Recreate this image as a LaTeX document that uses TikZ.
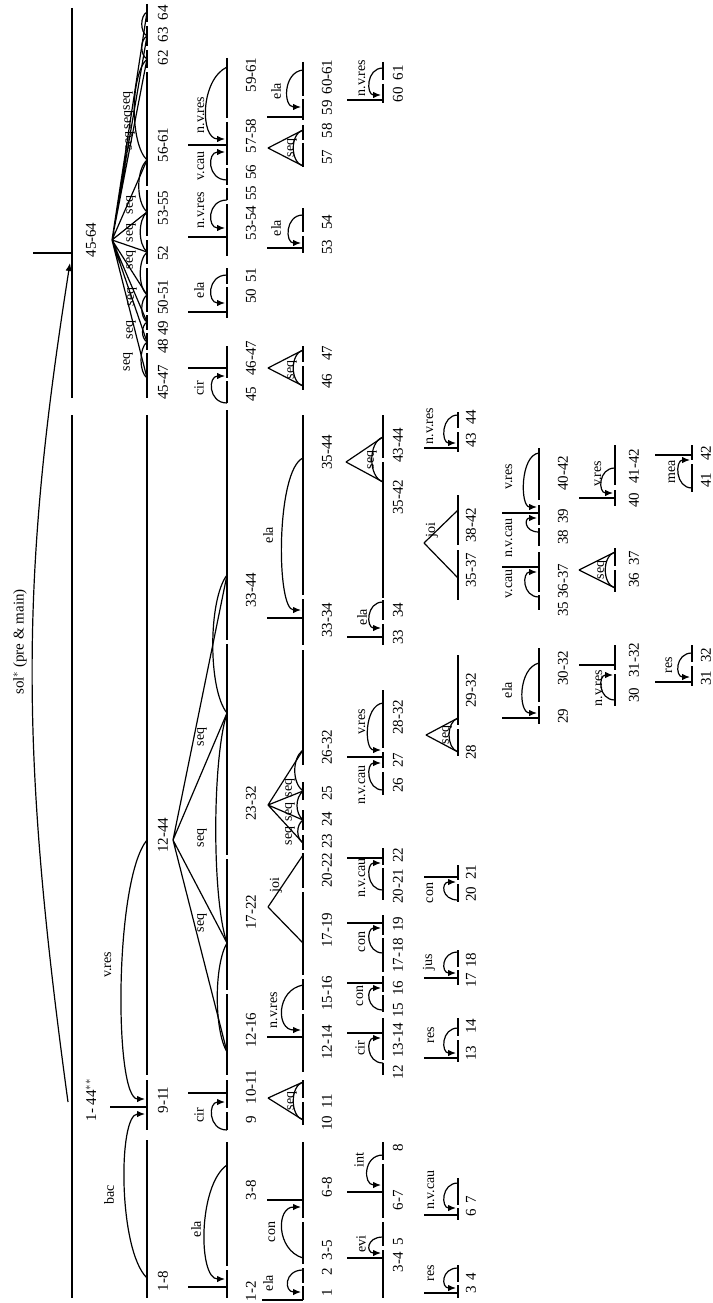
\documentclass[tikz,border=0pt]{standalone}
\usepackage{fontspec}
\setmainfont{Liberation Serif}
\usetikzlibrary{arrows.meta}
\begin{document}
\begin{tikzpicture}[x=1pt, y=-1pt, line width=1.2pt,
  lab/.style={rotate=90, inner sep=0pt, font=\fontsize{15}{15}\selectfont},
  rel/.style={rotate=90, inner sep=0pt, font=\fontsize{14}{14}\selectfont},
  sat/.style={-{Latex[length=8pt,width=6.5pt]}}]
\useasboundingbox (0,0) rectangle (712,1303);

% root
\node[lab] (sol) at (20,642) {sol$^{*}$ (pre \& main)};
\draw[sat] (68,1102) .. controls (20,750) and (20,580) .. (70,263);
\draw (33,253) -- (72,253);
\draw (72,8) -- (72,398) (72,415) -- (72,1298);
\node[lab] (s45to64) at (91,240) {45-64};
\node[lab] (s1to44) at (91,1100) {1- 44$^{**}$};

% span bars
\draw (147,4)--(147,22) (147,26)--(147,46) (147,50)--(147,68) (147,72)--(147,186)
  (147,190)--(147,236) (147,240)--(147,264) (147,268)--(147,312) (147,315)--(147,330)
  (147,333)--(147,350) (147,353)--(147,398) (147,415)--(147,1075) (147,1080)--(147,1130)
  (147,1140)--(147,1298);
\draw (227,58)--(227,118) (227,122)--(227,165) (227,168)--(227,185) (227,188)--(227,200)
  (227,204)--(227,256) (227,268)--(227,284) (227,287)--(227,318) (227,346)--(227,378)
  (227,381)--(227,403) (227,410)--(227,640) (227,644)--(227,855) (227,859)--(227,990)
  (227,994)--(227,1075) (227,1080)--(227,1108) (227,1112)--(227,1130) (227,1142)--(227,1266)
  (227,1270)--(227,1298);
\draw (303,62)--(303,96) (303,99)--(303,120) (303,125)--(303,140) (303,143)--(303,167)
  (303,208)--(303,232) (303,236)--(303,253) (303,346)--(303,362) (303,366)--(303,390)
  (303,415)--(303,595) (303,599)--(303,645) (303,650)--(303,765) (303,782)--(303,800)
  (303,810)--(303,830) (303,835)--(303,850) (303,853)--(303,888) (303,892)--(303,975)
  (303,979)--(303,1010) (303,1014)--(303,1072) (303,1080)--(303,1098) (303,1102)--(303,1125)
  (303,1142)--(303,1218) (303,1222)--(303,1264) (303,1268)--(303,1283) (303,1286)--(303,1300);
\draw (383,62)--(383,80) (383,84)--(383,103) (383,415)--(383,458) (383,462)--(383,598)
  (383,600)--(383,620) (383,624)--(383,645) (383,690)--(383,748) (383,752)--(383,768)
  (383,772)--(383,795) (383,848)--(383,865) (383,868)--(383,900) (383,915)--(383,935)
  (383,938)--(383,972) (383,976)--(383,992) (383,995)--(383,1012) (383,1018)--(383,1060)
  (383,1063)--(383,1075) (383,1142)--(383,1160) (383,1164)--(383,1218) (383,1222)--(383,1246)
  (383,1250)--(383,1298);
\draw (458,412)--(458,428) (458,432)--(458,452) (458,495)--(458,545) (458,550)--(458,600)
  (458,655)--(458,725) (458,729)--(458,756) (458,865)--(458,880) (458,884)--(458,902)
  (458,950)--(458,967) (458,970)--(458,985) (458,1018)--(458,1036) (458,1040)--(458,1062)
  (458,1178)--(458,1205) (458,1208)--(458,1220) (458,1265)--(458,1282) (458,1285)--(458,1298);
\draw (539,448)--(539,500) (539,505)--(539,525) (539,528)--(539,546) (539,552)--(539,592)
  (539,595)--(539,610) (539,648)--(539,702) (539,706)--(539,724);
\draw (615,445)--(615,485) (615,490)--(615,506) (615,548)--(615,566) (615,570)--(615,592)
  (615,645)--(615,670) (615,674)--(615,706);
\draw (692,445)--(692,460) (692,464)--(692,492) (692,645)--(692,662) (692,666)--(692,686);

% 1-44
\draw (110,1107) -- (147,1107);
\draw[sat] (147,1278) .. controls (118,1250) and (118,1114) .. (145,1114);
\node[rel] (bac) at (109,1195) {bac};
\draw[sat] (147,840) .. controls (114,880) and (114,1099) .. (145,1099);
\node[rel] (vres1) at (108,965) {v.res};

% 45-64
\draw (112,240) -- (147,12) (112,240) -- (147,36) (112,240) -- (147,59) (112,240) -- (147,160)
  (112,240) -- (147,212) (112,240) -- (147,252) (112,240) -- (147,295) (112,240) -- (147,322)
  (112,240) -- (147,342) (112,240) -- (147,378);
\draw (147,12) .. controls (140,16) and (140,32) .. (147,36);
\draw (147,36) .. controls (140,40) and (140,55) .. (147,59);
\draw (147,59) .. controls (130,75) and (130,144) .. (147,160);
\draw (147,160) .. controls (136,170) and (136,202) .. (147,212);
\draw (147,212) .. controls (138,220) and (138,244) .. (147,252);
\draw (147,252) .. controls (138,260) and (138,287) .. (147,295);
\draw (147,295) .. controls (140,300) and (140,317) .. (147,322);
\draw (147,322) .. controls (141,326) and (141,338) .. (147,342);
\draw (147,342) .. controls (139,348) and (139,372) .. (147,378);
\node[rel] at (128,101) {seq}; \node[rel] at (129,120) {seq};
\node[rel] at (130,141) {seq}; \node[rel] at (131,205) {seq};
\node[rel] at (131,233) {seq}; \node[rel] at (131,260) {seq};
\node[rel] at (132,297) {seq}; \node[rel] at (131,330) {seq};
\node[rel] at (128,362) {seq};
\node[lab] at (163,13) {64}; \node[lab] at (163,35) {63}; \node[lab] at (163,58) {62};
\node[lab] at (163,145) {56-61}; \node[lab] at (163,208) {53-55}; \node[lab] at (163,253) {52};
\node[lab] at (163,297) {50-51}; \node[lab] at (163,328) {49}; \node[lab] at (163,346) {48};
\node[lab] at (163,382) {45-47};

% level 2 -> 3
\node[lab] (s12to44) at (163,835) {12-44};
\node[lab] (s9to11) at (163,1100) {9-11};
\node[lab] (s1to8) at (163,1281) {1-8};
\draw (188,1287) -- (227,1287);
\draw[sat] (227,1165) .. controls (198,1185) and (198,1279) .. (225,1279);
\node[rel] at (196,1229) {ela};
\draw (188,1093) -- (227,1093);
\draw[sat] (227,1130) .. controls (208,1130) and (208,1102) .. (225,1102);
\node[rel] at (199,1115) {cir};
\draw (188,368) -- (227,368);
\draw[sat] (227,403) .. controls (208,403) and (208,376) .. (225,376);
\node[rel] at (199,388) {cir};
\draw (188,312) -- (227,312);
\draw[sat] (227,275) .. controls (207,275) and (207,303) .. (225,303);
\node[rel] at (199,290) {ela};
\draw (188,237) -- (227,237);
\draw[sat] (227,200) .. controls (207,200) and (207,228) .. (225,228);
\node[rel] at (201,210) {n.v.res};
\draw (188,145) -- (227,145);
\draw[sat] (227,180) .. controls (207,180) and (207,152) .. (225,152);
\node[rel] at (201,166) {v.cau};
\draw[sat] (227,67) .. controls (200,80) and (200,139) .. (225,139);
\node[rel] at (201,115) {n.v.res};
\draw (173,840) -- (227,575) (173,840) -- (227,713) (173,840) -- (227,943) (173,840) -- (227,1052);
\draw (227,575) .. controls (208,600) and (208,690) .. (227,713);
\draw (227,713) .. controls (212,760) and (212,900) .. (227,943);
\draw (227,943) .. controls (214,965) and (214,1030) .. (227,1052);
\node[rel] at (202,737) {seq}; \node[rel] at (202,838) {seq}; \node[rel] at (202,923) {seq};

% level 3 labels
\node[lab] at (251,75) {59-61}; \node[lab] at (251,136) {57-58}; \node[lab] at (251,172) {56};
\node[lab] at (251,193) {55}; \node[lab] at (251,223) {53-54}; \node[lab] at (251,275) {51};
\node[lab] at (251,296) {50}; \node[lab] at (251,358) {46-47}; \node[lab] at (251,394) {45};
\node[lab] at (251,590) {33-44}; \node[lab] at (251,803) {23-32}; \node[lab] at (251,912) {17-22};
\node[lab] at (251,1030) {12-16}; \node[lab] at (251,1087) {10-11}; \node[lab] at (251,1120) {9};
\node[lab] at (251,1190) {3-8}; \node[lab] at (251,1291) {1-2};

% level 3 -> 4
\draw (262,1300) -- (303,1300);
\draw[sat] (303,1270) .. controls (284,1270) and (284,1292) .. (301,1292);
\node[rel] at (268,1283) {ela};
\draw (267,1200) -- (303,1200);
\draw[sat] (303,1258) .. controls (276,1250) and (276,1207) .. (301,1207);
\node[rel] at (272,1232) {con};
\draw (268,1098) -- (303,1082) (268,1098) -- (303,1120);
\draw (303,1082) .. controls (290,1086) and (290,1116) .. (303,1120);
\node[rel] at (292,1101) {seq};
\draw (267,1037) -- (303,1037);
\draw[sat] (303,985) .. controls (276,990) and (276,1030) .. (301,1030);
\node[rel] at (274,1010) {n.v.res};
\draw (268,907) -- (303,855) (268,907) -- (303,943);
\node[rel] at (276,885) {joi};
\draw (268,805) -- (303,843) (268,805) -- (303,820) (268,805) -- (303,791) (268,805) -- (303,750);
\draw (303,843) .. controls (296,838) and (296,825) .. (303,820);
\draw (303,820) .. controls (295,813) and (295,798) .. (303,791);
\draw (303,791) .. controls (292,783) and (292,758) .. (303,750);
\node[rel] at (290,836) {seq}; \node[rel] at (290,812) {seq}; \node[rel] at (290,788) {seq};
\draw (267,618) -- (303,618);
\draw[sat] (303,458) .. controls (276,470) and (276,610) .. (301,610);
\node[rel] at (268,535) {ela};
\draw (268,368) -- (303,350) (268,368) -- (303,386);
\draw (303,350) .. controls (290,354) and (290,382) .. (303,386);
\node[rel] at (292,370) {seq};
\draw (267,248) -- (303,248);
\draw[sat] (303,215) .. controls (285,215) and (285,243) .. (301,243);
\node[rel] at (276,228) {ela};
\draw (268,148) -- (303,130) (268,148) -- (303,166);
\draw (303,130) .. controls (290,134) and (290,162) .. (303,166);
\node[rel] at (292,148) {seq};
\draw (267,117) -- (303,117);
\draw[sat] (303,70) .. controls (283,72) and (283,107) .. (301,107);
\node[rel] at (276,91) {ela};

% level 4 labels
\node[lab] at (327,77) {60-61}; \node[lab] at (327,108) {59}; \node[lab] at (327,131) {58};
\node[lab] at (327,157) {57}; \node[lab] at (327,222) {54}; \node[lab] at (327,247) {53};
\node[lab] at (327,353) {47}; \node[lab] at (327,381) {46}; \node[lab] at (327,452) {35-44};
\node[lab] at (327,620) {33-34}; \node[lab] at (327,747) {26-32}; \node[lab] at (327,793) {25};
\node[lab] at (327,819) {24}; \node[lab] at (327,841) {23}; \node[lab] at (327,870) {20-22};
\node[lab] at (327,930) {17-19}; \node[lab] at (327,993) {15-16}; \node[lab] at (327,1042) {12-14};
\node[lab] at (327,1101) {11}; \node[lab] at (327,1123) {10}; \node[lab] at (327,1187) {6-8};
\node[lab] at (327,1250) {3-5}; \node[lab] at (327,1272) {2}; \node[lab] at (327,1293) {1};

% level 4 -> 5
\draw (347,1258) -- (383,1258);
\draw[sat] (383,1237) .. controls (366,1237) and (366,1253) .. (381,1253);
\node[rel] at (361,1244) {evi};
\draw (347,1192) -- (383,1192);
\draw[sat] (383,1155) .. controls (363,1155) and (363,1185) .. (381,1185);
\node[rel] at (359,1160) {int};
\draw (347,1033) -- (383,1033);
\draw[sat] (383,1063) .. controls (366,1063) and (366,1038) .. (381,1038);
\node[rel] at (360,1048) {cir};
\draw (347,983) -- (383,983);
\draw[sat] (383,1010) .. controls (366,1010) and (366,988) .. (381,988);
\node[rel] at (360,996) {con};
\draw (347,923) -- (383,923);
\draw[sat] (383,953) .. controls (366,953) and (366,928) .. (381,928);
\node[rel] at (362,942) {con};
\draw (347,858) -- (383,858);
\draw[sat] (383,890) .. controls (366,890) and (366,863) .. (381,863);
\node[rel] at (362,878) {n.v.cau};
\draw (347,757) -- (383,757);
\draw[sat] (383,790) .. controls (366,790) and (366,763) .. (381,763);
\node[rel] at (362,785) {n.v.cau};
\draw[sat] (383,703) .. controls (364,705) and (364,750) .. (381,750);
\node[rel] at (362,722) {v.res};
\draw (347,637) -- (383,637);
\draw[sat] (383,602) .. controls (366,602) and (366,628) .. (381,628);
\node[rel] at (362,617) {ela};
\draw (346,462) -- (383,437) (346,462) -- (383,482);
\draw (383,437) .. controls (368,442) and (368,477) .. (383,482);
\node[rel] at (372,460) {seq};
\draw (347,100) -- (383,100);
\draw[sat] (383,68) .. controls (366,68) and (366,95) .. (381,95);
\node[rel] at (362,78) {n.v.res};

% level 5 labels
\node[lab] at (398,73) {61}; \node[lab] at (398,95) {60}; \node[lab] at (398,445) {43-44};
\node[lab] at (398,497) {35-42}; \node[lab] at (398,610) {34}; \node[lab] at (398,637) {33};
\node[lab] at (398,717) {28-32}; \node[lab] at (398,760) {27}; \node[lab] at (398,785) {26};
\node[lab] at (398,855) {22}; \node[lab] at (398,886) {20-21}; \node[lab] at (398,924) {19};
\node[lab] at (398,955) {17-18}; \node[lab] at (398,988) {16}; \node[lab] at (398,1010) {15};
\node[lab] at (398,1040) {13-14}; \node[lab] at (398,1072) {12}; \node[lab] at (398,1148) {8};
\node[lab] at (398,1200) {6-7}; \node[lab] at (398,1242) {5}; \node[lab] at (398,1262) {3-4};

% level 5 -> 6
\draw (424,1293) -- (458,1293);
\draw[sat] (458,1268) .. controls (441,1268) and (441,1288) .. (456,1288);
\node[rel] at (431,1273) {res};
\draw (424,1215) -- (458,1215);
\draw[sat] (458,1183) .. controls (441,1183) and (441,1208) .. (456,1208);
\node[rel] at (431,1190) {n.v.cau};
\draw (424,1058) -- (458,1058);
\draw[sat] (458,1028) .. controls (441,1028) and (441,1053) .. (456,1053);
\node[rel] at (431,1035) {res};
\draw (424,978) -- (458,978);
\draw[sat] (458,952) .. controls (441,952) and (441,973) .. (456,973);
\node[rel] at (429,962) {jus};
\draw (424,877) -- (458,877);
\draw[sat] (458,900) .. controls (441,900) and (441,882) .. (456,882);
\node[rel] at (430,893) {con};
\draw (426,735) -- (458,718) (426,735) -- (458,752);
\draw (458,718) .. controls (446,722) and (446,748) .. (458,752);
\node[rel] at (447,735) {seq};
\draw (424,543) -- (458,510) (424,543) -- (458,578);
\node[rel] at (432,530) {joi};
\draw (424,448) -- (458,448);
\draw[sat] (458,415) .. controls (441,415) and (441,443) .. (456,443);
\node[rel] at (430,426) {n.v.res};

% level 6 labels
\node[lab] at (471,417) {44}; \node[lab] at (471,440) {43}; \node[lab] at (471,525) {38-42};
\node[lab] at (471,570) {35-37}; \node[lab] at (471,690) {29-32}; \node[lab] at (471,752) {28};
\node[lab] at (471,872) {21}; \node[lab] at (471,894) {20}; \node[lab] at (471,960) {18};
\node[lab] at (471,980) {17}; \node[lab] at (471,1026) {14}; \node[lab] at (471,1053) {13};
\node[lab] at (471,1200) {7}; \node[lab] at (471,1213) {6}; \node[lab] at (471,1277) {4};
\node[lab] at (471,1290) {3};

% level 6 -> 7
\draw (502,718) -- (539,718);
\draw[sat] (539,663) .. controls (518,668) and (518,713) .. (537,713);
\node[rel] at (507,690) {ela};
\draw (502,567) -- (539,567);
\draw[sat] (539,597) .. controls (522,597) and (522,572) .. (537,572);
\node[rel] at (509,584) {v.cau};
\draw (502,513) -- (539,513);
\draw[sat] (539,532) .. controls (524,532) and (524,518) .. (537,518);
\node[rel] at (509,538) {n.v.cau};
\draw[sat] (539,453) .. controls (520,455) and (520,507) .. (537,507);
\node[rel] at (509,477) {v.res};

% level 7 labels
\node[lab] at (563,473) {40-42}; \node[lab] at (563,516) {39}; \node[lab] at (563,537) {38};
\node[lab] at (563,581) {36-37}; \node[lab] at (563,609) {35}; \node[lab] at (563,668) {30-32};
\node[lab] at (563,716) {29};

% level 7 -> 8
\draw (579,665) -- (615,665);
\draw[sat] (615,700) .. controls (598,700) and (598,675) .. (613,675);
\node[rel] at (599,688) {n.v.res};
\draw (579,570) -- (615,552) (579,570) -- (615,588);
\draw (615,552) .. controls (602,556) and (602,584) .. (615,588);
\node[rel] at (602,570) {seq};
\draw (579,498) -- (615,498);
\draw[sat] (615,468) .. controls (598,468) and (598,493) .. (613,493);
\node[rel] at (598,474) {v.res};

% level 8 labels
\node[lab] at (634,466) {41-42}; \node[lab] at (634,500) {40}; \node[lab] at (634,558) {37};
\node[lab] at (634,580) {36}; \node[lab] at (634,660) {31-32}; \node[lab] at (634,695) {30};

% level 8 -> 9
\draw (655,682) -- (692,682);
\draw[sat] (692,653) .. controls (675,653) and (675,677) .. (690,677);
\node[rel] at (669,665) {res};
\draw (655,455) -- (692,455);
\draw[sat] (692,488) .. controls (675,488) and (675,460) .. (690,460);
\node[rel] at (672,472) {mea};

% level 9 labels
\node[lab] at (706,453) {42}; \node[lab] at (706,480) {41};
\node[lab] at (706,655) {32}; \node[lab] at (706,678) {31};
\end{tikzpicture}
\end{document}
